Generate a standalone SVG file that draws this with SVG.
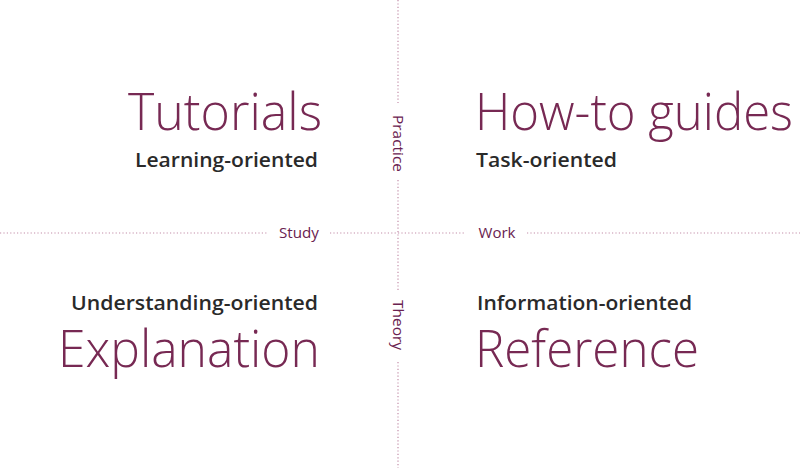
<svg xmlns="http://www.w3.org/2000/svg" width="800" height="468" viewBox="0 0 800 468">
<style>
.axis{stroke:#c38ea9;stroke-width:1.2;stroke-dasharray:1.2 2.2;fill:none}
.title{font-family:"Open Sans","Noto Sans","Liberation Sans",sans-serif;font-weight:300;font-size:52px;fill:#772953}
.sub{font-family:"Open Sans","Noto Sans","Liberation Sans",sans-serif;font-weight:600;font-size:20px;fill:#2a2a2a}
.lab{font-family:"Open Sans","Noto Sans","Liberation Sans",sans-serif;font-weight:400;font-size:14px;fill:#6a2250}
</style>
<rect width="800" height="468" fill="#ffffff"/>
<g id="connectors">
<line class="axis" x1="398" y1="0" x2="398" y2="103"/>
<line class="axis" x1="398" y1="180" x2="398" y2="290"/>
<line class="axis" x1="398" y1="362" x2="398" y2="468"/>
<line class="axis" x1="0" y1="233" x2="267" y2="233"/>
<line class="axis" x1="330" y1="233" x2="465" y2="233"/>
<line class="axis" x1="527" y1="233" x2="800" y2="233"/>
</g>
<g id="axis-labels">
<text class="lab" x="299" y="238" text-anchor="middle" textLength="40" lengthAdjust="spacingAndGlyphs">Study</text>
<text class="lab" x="497" y="238" text-anchor="middle" textLength="37" lengthAdjust="spacingAndGlyphs">Work</text>
<text class="lab" transform="translate(393,143.5) rotate(90)" x="0" y="0" text-anchor="middle" textLength="57" lengthAdjust="spacingAndGlyphs">Practice</text>
<text class="lab" transform="translate(393,325) rotate(90)" x="0" y="0" text-anchor="middle" textLength="50" lengthAdjust="spacingAndGlyphs">Theory</text>
</g>
<g id="tutorials">
<text class="title" x="322" y="130" text-anchor="end" textLength="194" lengthAdjust="spacingAndGlyphs">Tutorials</text>
<text class="sub" x="318" y="167" text-anchor="end" textLength="183" lengthAdjust="spacingAndGlyphs">Learning-oriented</text>
</g>
<g id="how-to-guides">
<text class="title" x="475" y="130" textLength="318" lengthAdjust="spacingAndGlyphs">How-to guides</text>
<text class="sub" x="476" y="167" textLength="141" lengthAdjust="spacingAndGlyphs">Task-oriented</text>
</g>
<g id="explanation">
<text class="sub" x="318" y="310" text-anchor="end" textLength="247" lengthAdjust="spacingAndGlyphs">Understanding-oriented</text>
<text class="title" x="320" y="367" text-anchor="end" textLength="262" lengthAdjust="spacingAndGlyphs">Explanation</text>
</g>
<g id="reference">
<text class="sub" x="477" y="310" textLength="215" lengthAdjust="spacingAndGlyphs">Information-oriented</text>
<text class="title" x="475" y="367" textLength="224" lengthAdjust="spacingAndGlyphs">Reference</text>
</g>
</svg>
